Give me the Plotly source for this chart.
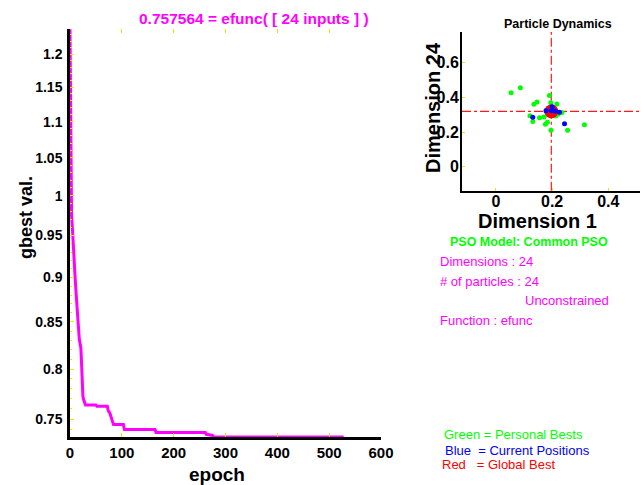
import numpy as np
import plotly.graph_objects as go

W, H = 641, 485

# ---- data ----
epochs = [0, 1, 2, 3, 5, 7, 10, 12, 14, 16, 18, 21, 23, 24, 25, 27, 30, 50, 52, 72, 74, 77, 79, 84,
          103, 105, 164, 166, 261, 263, 275, 277, 528]
gbest_vals = [1.239, 1.14, 1.04, 0.975, 0.955, 0.925, 0.899, 0.88, 0.866, 0.845, 0.831, 0.822, 0.80,
              0.782, 0.772, 0.768, 0.7637, 0.7637, 0.7625, 0.7625, 0.758, 0.7558, 0.7524, 0.7448,
              0.7448, 0.7401, 0.7401, 0.7373, 0.7373, 0.7355, 0.7345, 0.733, 0.733]

pbest_x = [0.054, 0.087, 0.190, 0.135, 0.146, 0.217, 0.195, 0.121, 0.131, 0.155, 0.171, 0.183,
           0.176, 0.213, 0.221, 0.235, 0.196, 0.255, 0.315, 0.185, 0.205, 0.190, 0.200, 0.180]
pbest_y = [0.427, 0.456, 0.410, 0.360, 0.373, 0.362, 0.369, 0.294, 0.260, 0.283, 0.287, 0.256,
           0.245, 0.293, 0.302, 0.312, 0.210, 0.210, 0.242, 0.330, 0.335, 0.315, 0.340, 0.325]
pos_x = [0.131, 0.244, 0.200, 0.178, 0.196, 0.211, 0.226]
pos_y = [0.285, 0.248, 0.346, 0.323, 0.322, 0.321, 0.314]
gbest_x = [0.197]
gbest_y = [0.319]

x1_ticks = [0, 100, 200, 300, 400, 500, 600]
y1_ticks = [0.75, 0.8, 0.85, 0.9, 0.95, 1.0, 1.05, 1.1, 1.15, 1.2]
y1_ticktext = ["0.75", "0.8", "0.85", "0.9", "0.95", "1", "1.05", "1.1", "1.15", "1.2"]
y1_minor = [round(0.73 + 0.01 * i, 2) for i in range(52)]
x2_ticks = [0, 0.2, 0.4]
y2_ticks = [0, 0.2, 0.4, 0.6]

MAG = "#ff00ff"
GRN = "#00ff00"
YEL = "#e8e800"

def px(x):
    return x / W

def py(y):
    return 1 - y / H

fig = go.Figure()

fig.add_trace(go.Scatter(x=epochs, y=gbest_vals, mode="lines",
                         line=dict(color=MAG, width=3), xaxis="x", yaxis="y",
                         showlegend=False, hoverinfo="skip"))
# dummy trace for top ticks
fig.add_trace(go.Scatter(x=[0], y=[1], mode="markers", marker=dict(opacity=0),
                         xaxis="x3", yaxis="y", showlegend=False, hoverinfo="skip"))

fig.add_trace(go.Scatter(x=pbest_x, y=pbest_y, mode="markers",
                         marker=dict(color=GRN, size=5, line=dict(width=0)),
                         xaxis="x2", yaxis="y2", showlegend=False))
fig.add_trace(go.Scatter(x=gbest_x, y=gbest_y, mode="markers",
                         marker=dict(color="#ff0000", size=14, line=dict(width=0)),
                         xaxis="x2", yaxis="y2", showlegend=False))
fig.add_trace(go.Scatter(x=pos_x, y=pos_y, mode="markers",
                         marker=dict(color="#0000ff", size=5, line=dict(width=0)),
                         xaxis="x2", yaxis="y2", showlegend=False))

bold = dict(family="Arial", color="black", weight="bold")

fig.update_layout(
    template="none", autosize=False,
    width=W, height=H, margin=dict(l=0, r=0, t=0, b=0, pad=0),
    paper_bgcolor="white", plot_bgcolor="white", showlegend=False,
    xaxis=dict(domain=[px(70), px(381)], range=[0, 600], tickvals=x1_ticks, automargin=False,
               showgrid=False, zeroline=False, showline=True, linecolor="black", linewidth=2.5,
               ticks="inside", ticklen=4, tickcolor=YEL, tickwidth=1,
               tickfont=dict(size=15, **bold), ticklabelstandoff=0, anchor="y"),
    xaxis3=dict(overlaying="x", side="top", range=[0, 600], tickvals=[100, 200, 300, 400, 500],
                showgrid=False, zeroline=False, showline=False, showticklabels=False, automargin=False,
                ticks="inside", ticklen=4, tickcolor=YEL, anchor="y"),
    yaxis=dict(domain=[py(437), py(29)], type="log", automargin=False,
               range=[np.log10(0.733), np.log10(1.2393)],
               tickvals=y1_ticks, ticktext=y1_ticktext,
               showgrid=False, zeroline=False, showline=True, linecolor="black", linewidth=2.5,
               ticks="inside", ticklen=4, tickcolor=YEL, tickwidth=1,
               minor=dict(tickmode="array", tickvals=y1_minor, ticks="inside", ticklen=2,
                          tickcolor=YEL, showgrid=False),
               tickfont=dict(size=14, **bold), ticklabelstandoff=2, anchor="x"),
    xaxis2=dict(domain=[px(462), px(639.5)], range=[-0.121, 0.511], tickvals=x2_ticks,
                ticktext=["0", "0.2", "0.4"], automargin=False,
                showgrid=False, zeroline=False, showline=True, linecolor="black", linewidth=2,
                ticks="inside", ticklen=3, tickcolor=YEL, tickfont=dict(size=16, **bold),
                ticklabelstandoff=-5, anchor="y2"),
    yaxis2=dict(domain=[py(190.7), py(32)], range=[-0.1385, 0.777], tickvals=y2_ticks,
                ticktext=["0", "0.2", "0.4", "0.6"], automargin=False,
                showgrid=False, zeroline=False, showline=True, linecolor="black", linewidth=2,
                ticks="inside", ticklen=3, tickcolor=YEL, tickfont=dict(size=16, **bold),
                ticklabelstandoff=-2, anchor="x2"),
)

# crosshair through the global best
fig.add_shape(type="line", xref="x2", yref="y2 domain", x0=gbest_x[0], x1=gbest_x[0], y0=0, y1=1,
              line=dict(color="#ff1a1a", width=1.2, dash="dashdot"), layer="below")
fig.add_shape(type="line", xref="x2 domain", yref="y2", x0=0, x1=1, y0=gbest_y[0], y1=gbest_y[0],
              line=dict(color="#ff1a1a", width=1.2, dash="dashdot"), layer="below")

def ann(text, x, y, size, color, weight="normal", xanchor="center", angle=0):
    fig.add_annotation(text=text, x=px(x), y=py(y), xref="paper", yref="paper",
                       xanchor=xanchor, yanchor="middle", showarrow=False, textangle=angle,
                       font=dict(family="Arial", size=size, color=color, weight=weight))

ann("0.757564 = efunc( [ 24 inputs ] )", 254, 19, 15.5, MAG, "bold")
ann("gbest val.", 26, 218, 18, "black", "bold", angle=-90)
ann("epoch", 217, 474, 19, "black", "bold")
ann("Particle Dynamics", 558, 24, 12.5, "black", "bold")
ann("Dimension 24", 433, 108, 20, "black", "bold", angle=-90)
ann("Dimension 1", 537, 221, 20, "black", "bold")
ann("PSO Model: Common PSO", 528.5, 241.5, 12.5, GRN, "bold")
ann("Dimensions : 24", 438, 261.5, 13, MAG, xanchor="left")
ann("# of particles : 24", 438, 281.5, 13, MAG, xanchor="left")
ann("Unconstrained", 523, 300.5, 13, MAG, xanchor="left")
ann("Function : efunc", 438, 320.5, 13, MAG, xanchor="left")
ann("Green = Personal Bests", 441.5, 434, 13, GRN, xanchor="left")
ann("Blue&nbsp;&nbsp;= Current Positions", 442.5, 450.5, 13, "#0000ff", xanchor="left")
ann("Red&nbsp;&nbsp;&nbsp;= Global Best", 440, 464, 13, "#ff0000", xanchor="left")

fig.write_html("out.html", config={"responsive": False})
